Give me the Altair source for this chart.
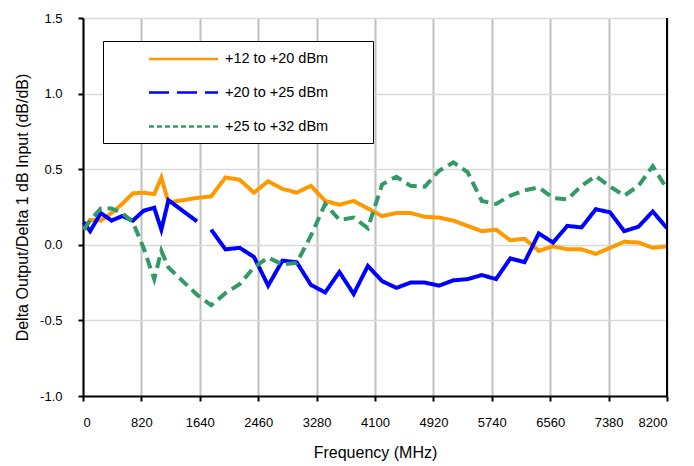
import altair as alt
import pandas as pd

# ---- data ----
freq = [10, 100, 250, 400, 550, 700, 850, 1000, 1100, 1200, 1400, 1600,
        1800, 2000, 2200, 2400, 2600, 2800, 3000, 3200, 3400, 3600,
        3800, 4000, 4200, 4400, 4600, 4800, 5000, 5200, 5400, 5600,
        5800, 6000, 6200, 6400, 6600, 6800, 7000, 7200, 7400, 7600,
        7800, 8000, 8200]

s_12_20 = [0.10, 0.165, 0.16, 0.21, 0.27, 0.34, 0.345, 0.335, 0.445, 0.28, 0.295, 0.31,
           0.32, 0.445, 0.43, 0.345, 0.42, 0.37, 0.345, 0.39, 0.29, 0.265,
           0.29, 0.24, 0.19, 0.21, 0.21, 0.185, 0.18, 0.16, 0.125, 0.09,
           0.10, 0.03, 0.04, -0.04, -0.01, -0.03, -0.03, -0.06, -0.02, 0.02,
           0.015, -0.02, -0.01]

s_20_25 = [0.15, 0.09, 0.21, 0.16, 0.19, 0.16, 0.225, 0.245, 0.10, 0.295, 0.225, 0.155,
           0.10, -0.03, -0.02, -0.08, -0.27, -0.105, -0.115, -0.265, -0.315, -0.18,
           -0.325, -0.14, -0.24, -0.285, -0.25, -0.25, -0.27, -0.235, -0.227, -0.20,
           -0.227, -0.09, -0.115, 0.075, 0.015, 0.125, 0.115, 0.235, 0.215, 0.09,
           0.12, 0.22, 0.11]
blue_gap_after = 1600  # no point drawn between 1600 and 1800 MHz

s_25_32 = [0.10, 0.16, 0.24, 0.24, 0.21, 0.15, -0.02, -0.227, -0.04, -0.15, -0.24, -0.33,
           -0.40, -0.32, -0.26, -0.15, -0.085, -0.13, -0.12, 0.06, 0.27, 0.165,
           0.18, 0.11, 0.40, 0.45, 0.39, 0.385, 0.49, 0.545, 0.48, 0.29,
           0.27, 0.325, 0.36, 0.38, 0.31, 0.30, 0.39, 0.455, 0.385, 0.325,
           0.39, 0.52, 0.37]

series_names = ["+12 to +20 dBm", "+20 to +25 dBm", "+25 to +32 dBm"]
series_colors = ["#FF9900", "#0000FF", "#339966"]
x_ticks = [0, 820, 1640, 2460, 3280, 4100, 4920, 5740, 6560, 7380, 8200]
y_ticks = [-1.0, -0.5, 0.0, 0.5, 1.0, 1.5]

rows = []
for name, vals in zip(series_names, [s_12_20, s_20_25, s_25_32]):
    for f, v in zip(freq, vals):
        seg = 1 if (name == series_names[1] and f > blue_gap_after) else 0
        rows.append({"freq": f, "val": v, "series": name, "seg": seg})
df = pd.DataFrame(rows)

FONT = "Liberation Sans"
W, H = 584, 378

x_enc = alt.X("freq:Q", scale=alt.Scale(domain=[0, 8200], nice=False, zero=False),
              axis=alt.Axis(values=x_ticks, format="d", title="Frequency (MHz)",
                            grid=True, gridColor="#c0c0c0", gridWidth=2,
                            labelPadding=15, titlePadding=15))
y_enc = alt.Y("val:Q", scale=alt.Scale(domain=[-1.0, 1.5], nice=False, zero=False),
              axis=alt.Axis(values=y_ticks,
                            labelExpr="replace(format(datum.value, '.1f'), '\u2212', '-')",
                            title="Delta Output/Delta 1 dB Input (dB/dB)",
                            grid=True, gridColor="#d9d9d9", gridWidth=1.5,
                            labelPadding=16, titlePadding=9))

dashes = [[1, 0], [1, 0], [11, 6]]
layers = []
for name, col, dash in zip(series_names, series_colors, dashes):
    layers.append(
        alt.Chart(df).transform_filter(alt.datum.series == name)
        .mark_line(color=col, strokeWidth=4, strokeDash=dash)
        .encode(x=x_enc, y=y_enc, detail="seg:N", order="freq:Q")
    )

# right frame edge
edge = alt.Chart(pd.DataFrame({"freq": [8200]})).mark_rule(color="black", strokeWidth=2).encode(
    x=alt.X("freq:Q", scale=alt.Scale(domain=[0, 8200], nice=False)))
layers.append(edge)

# legend box
one = pd.DataFrame({"a": [0]})
box = alt.Chart(one).mark_rect(fill="white", stroke="black", strokeWidth=1).encode(
    x=alt.value(20.5), x2=alt.value(290.5), y=alt.value(23.5), y2=alt.value(125.5))
layers.append(box)

legend_dash = [[1, 0], [20, 8], [5, 3]]
row_y = [41, 74.5, 108.5]
for name, col, dash, ry in zip(series_names, series_colors, legend_dash, row_y):
    layers.append(alt.Chart(one).mark_rule(color=col, strokeWidth=2.5, strokeDash=dash).encode(
        x=alt.value(66), x2=alt.value(135), y=alt.value(ry)))
    layers.append(alt.Chart(one).mark_text(align="left", baseline="middle", font=FONT,
                                           fontSize=14.5, color="black").encode(
        x=alt.value(142), y=alt.value(ry), text=alt.value(name)))

chart = alt.layer(*layers).properties(
    width=W, height=H,
    padding={"left": 75, "top": 10, "right": 19, "bottom": 70},
    autosize=alt.AutoSizeParams(type="none"),
).configure_axis(
    labelFont=FONT, titleFont=FONT, labelFontSize=13, titleFontSize=16,
    labelColor="black", titleColor="black", titleFontWeight="normal",
    domainColor="black", domainWidth=2, tickColor="black", tickWidth=2, tickSize=5,
).configure_view(stroke=None)

chart.save("out.html", embed_options={"renderer": "svg", "actions": False})
